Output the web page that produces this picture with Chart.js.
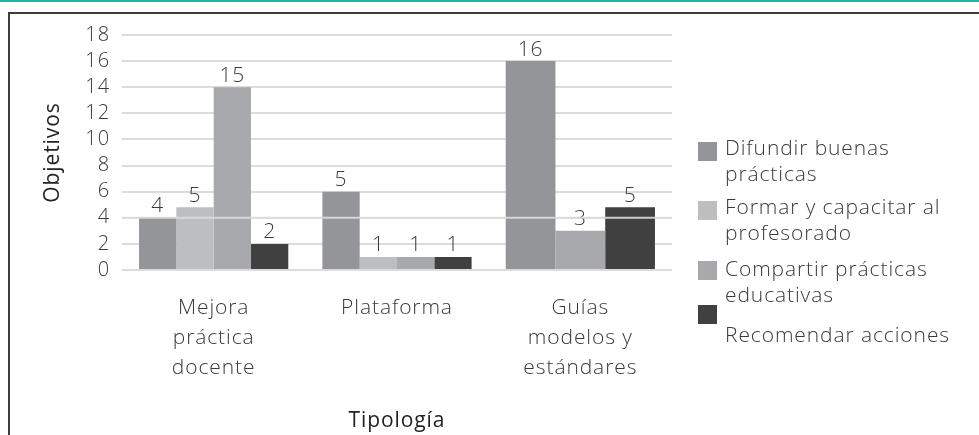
<!DOCTYPE html>
<html lang="es">
<head>
<meta charset="utf-8">
<title>Objetivos por tipología</title>
<script src="https://cdn.jsdelivr.net/npm/chart.js@4.4.1/dist/chart.umd.min.js"></script>
<style>
  html, body { margin: 0; padding: 0; background: #fff; }
  #wrap { position: relative; width: 979px; height: 435px; overflow: hidden; font-family: "Open Sans", Lato, sans-serif; }
  #topLine { position: absolute; left: 0; top: 0; width: 979px; height: 2px; background: #1fb3a3; }
  #frame { position: absolute; left: 8px; top: 12px; width: 1000px; height: 500px; border: 2px solid #3c3c3c; }
  #chart { position: absolute; left: 0; top: 0; }
  .item { position: absolute; left: 698px; }
  .box { position: absolute; left: 0; top: 0; width: 19px; height: 19px; }
  .txt { position: absolute; left: 27px; white-space: nowrap; font-size: 21px; letter-spacing: 0.9px; line-height: 26px; font-weight: 300; color: #3a3a3a; }
</style>
</head>
<body>
<div id="wrap">
  <div id="topLine"></div>
  <div id="frame"></div>
  <canvas id="chart" width="979" height="435"></canvas>
  <div id="legend"></div>
</div>
<script>
// Categories (x axis)
const categories = [["Mejora", "práctica", "docente"], "Plataforma", ["Guías", "modelos y", "estándares"]];

// Series names (legend, wrapped as in the picture)
const seriesNames = [
  ["Difundir buenas", "prácticas"],
  ["Formar y capacitar al", "profesorado"],
  ["Compartir prácticas", "educativas"],
  ["Recomendar acciones"]
];

// Bar heights as drawn
const difundir = [4, 6, 16];
const formar = [4.8, 1, null];
const compartir = [14, 1, 3];
const recomendar = [2, 1, 4.8];

// Value labels printed over the bars
const difundirLabels = [4, 5, 16];
const formarLabels = [5, 1, null];
const compartirLabels = [15, 1, 3];
const recomendarLabels = [2, 1, 5];

// Y axis ticks
const yMin = 0;
const yMax = 18;
const yStep = 2;

const colors = ["#939598", "#bcbec0", "#a7a9ac", "#404041"];
const textColor = "#3a3a3a";
const gridColor = "#dcdcdc";
const family = "'Open Sans'";

// wider text, the original font runs wide
const spacing = {
  id: "spacing",
  beforeDraw(chart) {
    chart.ctx.letterSpacing = "0.9px";
  }
};

// draws the numbers above the bars
const valueLabels = {
  id: "valueLabels",
  afterDatasetsDraw(chart) {
    const ctx = chart.ctx;
    ctx.save();
    ctx.font = "300 21px " + family;
    ctx.fillStyle = textColor;
    ctx.textAlign = "center";
    ctx.textBaseline = "bottom";
    chart.data.datasets.forEach((ds, i) => {
      const meta = chart.getDatasetMeta(i);
      meta.data.forEach((bar, j) => {
        const lbl = ds.valueLabels[j];
        if (lbl == null || ds.data[j] == null) return;
        ctx.fillText(String(lbl), bar.x, bar.y - 1);
      });
    });
    ctx.restore();
  }
};

// the gridline at 4 sits on top of the bars in the original
const overLine = {
  id: "overLine",
  afterDatasetsDraw(chart) {
    const { ctx, chartArea, scales } = chart;
    const y = scales.y.getPixelForValue(4);
    ctx.save();
    ctx.strokeStyle = "rgba(220,220,220,0.9)";
    ctx.lineWidth = 2;
    ctx.beginPath();
    ctx.moveTo(chartArea.left, y);
    ctx.lineTo(chartArea.right, y);
    ctx.stroke();
    ctx.restore();
  }
};

const chart = new Chart(document.getElementById("chart"), {
  type: "bar",
  data: {
    labels: categories,
    datasets: [
      { label: seriesNames[0].join(" "), data: difundir, valueLabels: difundirLabels, backgroundColor: colors[0] },
      { label: seriesNames[1].join(" "), data: formar, valueLabels: formarLabels, backgroundColor: colors[1] },
      { label: seriesNames[2].join(" "), data: compartir, valueLabels: compartirLabels, backgroundColor: colors[2] },
      { label: seriesNames[3].join(" "), data: recomendar, valueLabels: recomendarLabels, backgroundColor: colors[3] }
    ]
  },
  options: {
    responsive: false,
    animation: false,
    skipNull: true,
    categoryPercentage: 0.814,
    barPercentage: 1,
    layout: { padding: { top: 35, left: 10, right: 307, bottom: 0 } },
    plugins: {
      legend: { display: false },
      tooltip: { enabled: false }
    },
    scales: {
      x: {
        grid: { display: false },
        border: { display: false },
        ticks: { color: textColor, font: { family: family, size: 21, weight: 300, lineHeight: 1.42 }, padding: 15, maxRotation: 0 },
        title: { display: true, text: "Tipología", color: "#222", font: { family: family, size: 21, weight: 400 }, padding: { top: 0, bottom: 1 } },
        afterFit(scale) { scale.height = 165; }
      },
      y: {
        min: yMin,
        max: yMax,
        grid: { color: gridColor, lineWidth: 2, drawTicks: false },
        border: { display: false },
        ticks: { stepSize: yStep, autoSkip: false, color: textColor, font: { family: family, size: 20, weight: 300, lineHeight: 1 }, padding: 12 },
        title: { display: true, text: "Objetivos", color: "#222", font: { family: family, size: 21, weight: 400 }, padding: { top: 30, bottom: 0 } },
        afterFit(scale) { scale.width = 112; }
      }
    }
  },
  plugins: [spacing, valueLabels, overLine]
});

// legend built from the datasets
const legendTops = [142, 201, 261, 305];
const textOffsets = [-8, -8, -6, 16];
const legend = document.getElementById("legend");
chart.data.datasets.forEach((ds, i) => {
  const item = document.createElement("div");
  item.className = "item";
  item.style.top = legendTops[i] + "px";
  const box = document.createElement("div");
  box.className = "box";
  box.style.background = ds.backgroundColor;
  const txt = document.createElement("div");
  txt.className = "txt";
  txt.style.top = textOffsets[i] + "px";
  txt.innerHTML = seriesNames[i].join("<br>");
  item.appendChild(box);
  item.appendChild(txt);
  legend.appendChild(item);
});
</script>
</body>
</html>
